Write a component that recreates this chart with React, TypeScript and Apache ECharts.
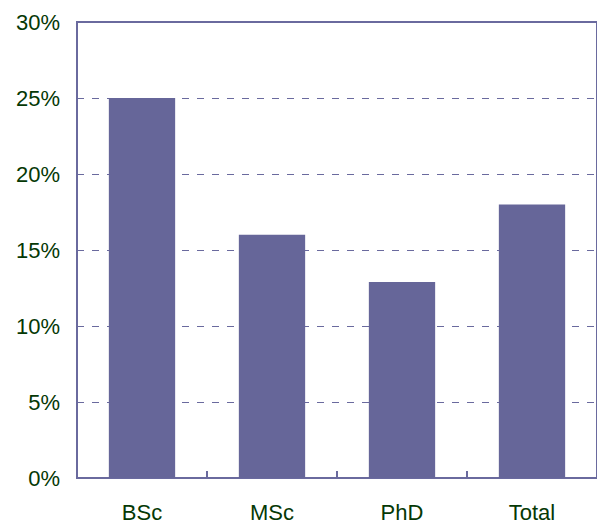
import React, { useEffect, useRef } from "react";
import * as echarts from "echarts";

const categories = ["BSc", "MSc", "PhD", "Total"];
const values = [25, 16, 12.9, 18];
const yTicks = { min: 0, max: 30, interval: 5 };

export default function App() {
  const ref = useRef<HTMLDivElement>(null);
  useEffect(() => {
    document.body.style.margin = "0";
    const chart = echarts.init(ref.current!, null, { renderer: "svg" });
    const lineColor = "#6a6a9e";
    const textColor = "#053805";
    chart.setOption({
      animation: false,
      grid: {
        left: 77,
        top: 22,
        width: 524,
        height: 457,
        show: true,
        borderColor: lineColor,
        borderWidth: 2,
        backgroundColor: "transparent",
      },
      xAxis: {
        type: "category",
        data: categories,
        axisLine: { show: true, lineStyle: { color: lineColor, width: 2 } },
        axisTick: { show: true, inside: true, length: 7, lineStyle: { color: lineColor, width: 2 } },
        axisLabel: {
          color: textColor,
          fontFamily: "Liberation Sans, Arial, sans-serif",
          fontSize: 22,
          margin: 23,
        },
      },
      yAxis: {
        type: "value",
        min: yTicks.min,
        max: yTicks.max,
        interval: yTicks.interval,
        axisLine: { show: true, lineStyle: { color: lineColor, width: 2 } },
        axisTick: { show: false },
        axisLabel: {
          color: textColor,
          fontFamily: "Liberation Sans, Arial, sans-serif",
          fontSize: 22,
          margin: 17,
          formatter: "{value}%",
        },
        splitLine: {
          show: true,
          lineStyle: { color: lineColor, width: 1, type: [7, 8] },
        },
      },
      series: [
        {
          type: "bar",
          data: values,
          barWidth: "51%",
          itemStyle: { color: "#666699" },
        },
      ],
    });
    return () => chart.dispose();
  }, []);
  return <div ref={ref} style={{ width: 597, height: 523 }} />;
}
